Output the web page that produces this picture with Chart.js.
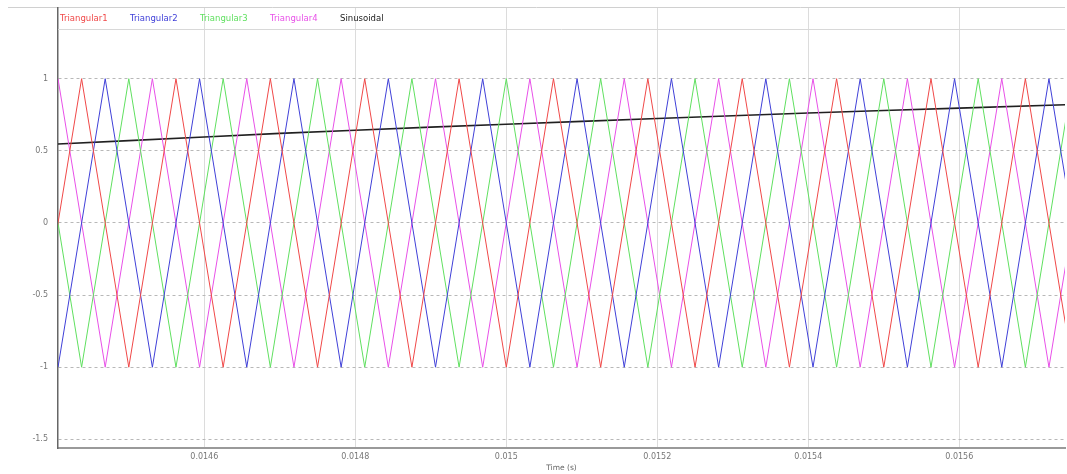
<!DOCTYPE html>
<html>
<head>
<meta charset="utf-8">
<script src="https://cdn.jsdelivr.net/npm/chart.js@4.4.1/dist/chart.umd.min.js"></script>
<style>
  html, body { margin: 0; padding: 0; background: #fff; }
  #wrap { width: 1067px; height: 474px; position: relative; }
</style>
</head>
<body>
<div id="wrap"><canvas id="c" width="1067" height="474"></canvas></div>
<script>
// ---- data ----
const seriesNames = ["Triangular1", "Triangular2", "Triangular3", "Triangular4", "Sinusoidal"];

// vertex times of Triangular1 (red) and Triangular3 (green)
const timesA = [0.014375, 0.0144375, 0.0145, 0.0145625, 0.014625, 0.0146875, 0.01475, 0.0148125,
  0.014875, 0.0149375, 0.015, 0.0150625, 0.015125, 0.0151875, 0.01525, 0.0153125, 0.015375,
  0.0154375, 0.0155, 0.0155625, 0.015625, 0.0156875, 0.01575];
const tri1 = [-1, 1, -1, 1, -1, 1, -1, 1, -1, 1, -1, 1, -1, 1, -1, 1, -1, 1, -1, 1, -1, 1, -1];
const tri3 = [1, -1, 1, -1, 1, -1, 1, -1, 1, -1, 1, -1, 1, -1, 1, -1, 1, -1, 1, -1, 1, -1, 1];

// vertex times of Triangular2 (blue) and Triangular4 (magenta)
const timesB = [0.01440625, 0.01446875, 0.01453125, 0.01459375, 0.01465625, 0.01471875, 0.01478125,
  0.01484375, 0.01490625, 0.01496875, 0.01503125, 0.01509375, 0.01515625, 0.01521875, 0.01528125,
  0.01534375, 0.01540625, 0.01546875, 0.01553125, 0.01559375, 0.01565625, 0.01571875, 0.01578125];
const tri2 = [-1, 1, -1, 1, -1, 1, -1, 1, -1, 1, -1, 1, -1, 1, -1, 1, -1, 1, -1, 1, -1, 1, -1];
const tri4 = [1, -1, 1, -1, 1, -1, 1, -1, 1, -1, 1, -1, 1, -1, 1, -1, 1, -1, 1, -1, 1, -1, 1];

// sinusoidal reference
const sineTimes = [0.01440625, 0.0145, 0.0146, 0.0147, 0.0148, 0.0149, 0.015, 0.0151, 0.0152,
  0.0153, 0.0154, 0.0155, 0.0156, 0.01574];
const sineValues = [0.547, 0.571, 0.596, 0.621, 0.643, 0.664, 0.684, 0.704, 0.724, 0.743, 0.762,
  0.779, 0.796, 0.819];

const xTicks = [0.0146, 0.0148, 0.015, 0.0152, 0.0154, 0.0156];
const yTicks = [-1.5, -1, -0.5, 0, 0.5, 1];

// ---- chart ----
const colors = ["#f04848", "#4040d8", "#60e060", "#e850e8", "#202020"];
const pts = (xs, ys) => xs.map((x, i) => ({ x: x, y: ys[i] }));

const legendPlugin = {
  id: 'topLegend',
  afterDraw(chart) {
    const ctx = chart.ctx, a = chart.chartArea;
    ctx.save();
    ctx.strokeStyle = '#d8d8d8';
    ctx.lineWidth = 1;
    ctx.beginPath();
    ctx.moveTo(a.left, 29.5); ctx.lineTo(a.right, 29.5);
    ctx.stroke();
    ctx.font = '8.5px "DejaVu Sans", Arial, sans-serif';
    ctx.textBaseline = 'middle';
    chart.data.datasets.forEach((ds, i) => {
      ctx.fillStyle = ds.borderColor;
      ctx.fillText(ds.label, 60 + i * 70, 19);
    });
    ctx.restore();
  }
};

new Chart(document.getElementById('c'), {
  type: 'line',
  data: {
    datasets: [
      { label: seriesNames[0], data: pts(timesA, tri1), borderColor: colors[0] },
      { label: seriesNames[1], data: pts(timesB, tri2), borderColor: colors[1] },
      { label: seriesNames[2], data: pts(timesA, tri3), borderColor: colors[2] },
      { label: seriesNames[3], data: pts(timesB, tri4), borderColor: colors[3] },
      { label: seriesNames[4], data: pts(sineTimes, sineValues), borderColor: colors[4], borderWidth: 1.6 }
    ].map(d => Object.assign({ borderWidth: 1, pointRadius: 0, tension: 0, fill: false }, d))
  },
  options: {
    responsive: false,
    animation: false,
    layout: { padding: { top: 8, right: 2, left: 0, bottom: 0 } },
    plugins: { legend: { display: false }, tooltip: { enabled: false } },
    scales: {
      x: {
        type: 'linear',
        min: 0.01440625,
        max: 0.01574,
        afterBuildTicks: s => { s.ticks = xTicks.map(v => ({ value: v })); },
        afterFit: s => { s.height = 26; s.paddingLeft = 0; s.paddingRight = 0; },
        ticks: {
          color: '#777', font: { size: 8, family: 'DejaVu Sans' }, padding: 4,
          callback: v => String(v)
        },
        grid: { color: '#dcdcdc', lineWidth: 1, drawTicks: false },
        border: { color: '#9a9a9a', width: 2 },
        title: { display: true, text: 'Time (s)', color: '#666', font: { size: 7.5, family: 'DejaVu Sans' }, padding: { top: 0, bottom: 1 } }
      },
      y: {
        type: 'linear',
        min: -1.56,
        max: 1.49,
        afterBuildTicks: s => { s.ticks = yTicks.map(v => ({ value: v })); },
        afterFit: s => { s.width = 58; s.paddingTop = 0; s.paddingBottom = 0; },
        ticks: {
          color: '#777', font: { size: 8, family: 'DejaVu Sans' }, padding: 10,
          callback: v => String(v)
        },
        grid: { color: '#b8b8b8', lineWidth: 1, drawTicks: false },
        border: { color: '#666', width: 1.5, dash: [3, 3] }
      }
    }
  },
  plugins: [legendPlugin, {
    id: 'frame',
    beforeDraw(chart) {
      const ctx = chart.ctx, a = chart.chartArea;
      ctx.save();
      ctx.strokeStyle = '#d0d0d0';
      ctx.lineWidth = 1;
      ctx.beginPath();
      ctx.moveTo(8, a.top - 0.5); ctx.lineTo(a.right, a.top - 0.5);
      ctx.stroke();
      ctx.restore();
    }
  }]
});
</script>
</body>
</html>
